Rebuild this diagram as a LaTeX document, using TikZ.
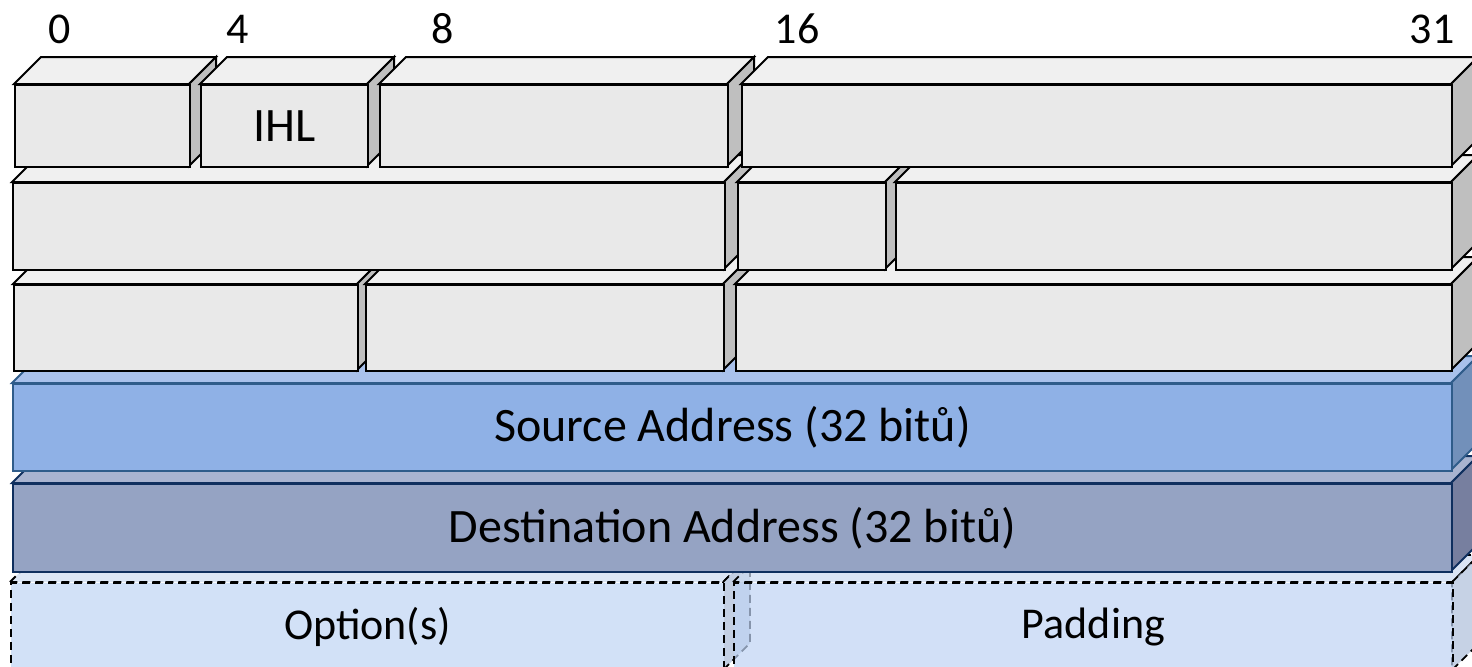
\documentclass[tikz,border=0pt]{standalone}
\usepackage{fontspec}
\setmainfont{Carlito}
\usetikzlibrary{calc}

% colour set for the header blocks
\definecolor{gfront}{HTML}{E9E9E9}
\definecolor{gtop}{HTML}{F0F0F0}
\definecolor{gside}{HTML}{BFBFBF}
\definecolor{sfront}{HTML}{8FB1E6}
\definecolor{stop}{HTML}{A9C1EB}
\definecolor{sside}{HTML}{7290BA}
\definecolor{sedge}{HTML}{2F5C8A}
\definecolor{dfront}{HTML}{95A3C3}
\definecolor{dtop}{HTML}{A9B4D0}
\definecolor{dside}{HTML}{777F9F}
\definecolor{dedge}{HTML}{0F2F5E}
\definecolor{ofront}{HTML}{D2E1F7}
\definecolor{otop}{HTML}{DCE6F5}
\definecolor{oside}{HTML}{C3CFE3}
% translucent versions, giving the same tints over white
\definecolor{pfront}{HTML}{BFD4F4}
\definecolor{ptop}{HTML}{CCDBF1}
\definecolor{pside}{HTML}{AFC0DA}

\tikzset{
  edgeline/.style={line width=1pt, line join=miter},
  dashline/.style={line width=0.9pt, dash pattern=on 4pt off 2.5pt},
  greyfront/.style={edgeline, draw=black, fill=gfront},
  greytop/.style={edgeline, draw=black, fill=gtop},
  greyside/.style={edgeline, draw=black, fill=gside},
  srcfront/.style={edgeline, draw=sedge, fill=sfront},
  srctop/.style={edgeline, draw=sedge, fill=stop},
  srcside/.style={edgeline, draw=sedge, fill=sside},
  dstfront/.style={edgeline, draw=dedge, fill=dfront},
  dsttop/.style={edgeline, draw=dedge, fill=dtop},
  dstside/.style={edgeline, draw=dedge, fill=dside},
  optfront/.style={dashline, draw=black, fill=ofront},
  opttop/.style={dashline, draw=black, fill=otop},
  optside/.style={dashline, draw=black, fill=oside},
  padfront/.style={dashline, draw=black, fill=pfront, fill opacity=0.7, text opacity=1},
  padtop/.style={dashline, draw=black, fill=ptop, fill opacity=0.7},
  padside/.style={dashline, draw=black, fill=pside, fill opacity=0.7},
  bitlabel/.style={anchor=base, font=\fontsize{22}{26}\selectfont},
  fieldtext/.style={font=\fontsize{24}{28}\selectfont},
  smalltext/.style={font=\fontsize{22}{26}\selectfont},
}

% a block drawn as a box with a top face and a right face
% #1 name, #2 x left, #3 y top, #4 x right, #5 y bottom, #6 style prefix, #7 text style, #8 text
\newcommand\fieldblock[8]{%
  \path[#6top] (#2,#3) -- (#2+27,#3-27) -- (#4+27,#3-27) -- (#4,#3) -- cycle;
  \path[#6side] (#4,#3) -- (#4+27,#3-27) -- (#4+27,#5-27) -- (#4,#5) -- cycle;
  \node[#6front, #7, shape=rectangle, inner sep=0pt, anchor=north west,
        minimum width={(#4-#2)*0.5pt}, minimum height={(#5-#3)*0.5pt}]
        (#1) at (#2,#3) {#8};
}

\begin{document}
\begin{tikzpicture}[x=0.5pt,y=-0.5pt]
  \useasboundingbox (0,0) rectangle (1472,666);
  \clip (0,0) rectangle (1472,666);
  \fill[white] (0,0) rectangle (1472,666);

  % bottom row first, so that each upper row overlaps the one below
  \fieldblock{options}{10}{582}{723}{670}{opt}{smalltext}{Option(s)}
  \fieldblock{padding}{733}{582}{1452}{670}{pad}{smalltext}{Padding}

  \fieldblock{dest}{12}{483}{1451}{571}{dst}{fieldtext}{Destination Address (32 bitů)}

  \fieldblock{source}{12}{383}{1451}{470}{src}{fieldtext}{Source Address (32 bitů)}

  \fieldblock{ttl}{13}{284}{357}{370}{grey}{fieldtext}{}
  \fieldblock{proto}{365}{284}{723}{370}{grey}{fieldtext}{}
  \fieldblock{checksum}{735}{284}{1451}{370}{grey}{fieldtext}{}

  \fieldblock{ident}{12}{182}{724}{269}{grey}{fieldtext}{}
  \fieldblock{flags}{737}{182}{885}{269}{grey}{fieldtext}{}
  \fieldblock{offset}{895}{182}{1451}{269}{grey}{fieldtext}{}

  \fieldblock{version}{14}{84}{189}{166}{grey}{fieldtext}{}
  \fieldblock{ihl}{200}{84}{367}{166}{grey}{fieldtext}{IHL}
  \fieldblock{tos}{379}{84}{727}{166}{grey}{fieldtext}{}
  \fieldblock{length}{741}{84}{1451}{166}{grey}{fieldtext}{}

  % bit positions
  \node[bitlabel] (b0) at (60,43) {0};
  \node[bitlabel] (b4) at (238,43) {4};
  \node[bitlabel] (b8) at (443,43) {8};
  \node[bitlabel] (b16) at (797,43) {16};
  \node[bitlabel] (b31) at (1432,43) {31};
\end{tikzpicture}
\end{document}
